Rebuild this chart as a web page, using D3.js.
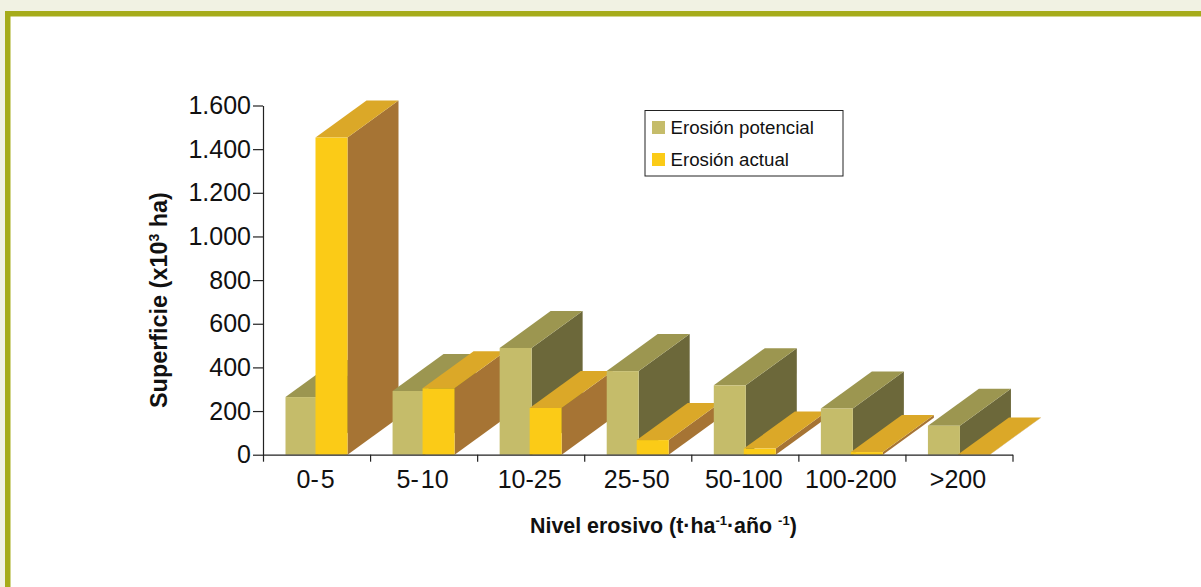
<!DOCTYPE html>
<html><head><meta charset="utf-8">
<script src="https://d3js.org/d3.v7.min.js"></script>
<style>
html,body{margin:0;padding:0;background:#f1f2e3;overflow:hidden}
text{font-family:"Liberation Sans",Arial,sans-serif;fill:#111}
</style></head><body>
<svg id="c" width="1201" height="587" style="display:block"></svg>
<script>
const categories = ["0- 5","5- 10","10-25","25- 50","50-100","100-200",">200"];
const seriesNames = ["Erosión potencial","Erosión actual"];
const potencial = [264,292,489,383,318,212,133];
const actual = [1453,304,214,67,28,12,1];
const yTicks = [0,200,400,600,800,1000,1200,1400,1600];
const yTitle = "Superficie (x10";
const xTitle = "Nivel erosivo (t·ha";

const svg = d3.select("#c");
svg.append("rect").attr("x",5).attr("y",11).attr("width",1196).attr("height",576).attr("fill","#a6ac1a");
svg.append("rect").attr("x",10.5).attr("y",16.5).attr("width",1191).attr("height",571).attr("fill","#fff");

const x0=263, x1=1012.5, y0=454.7, y1=105.5;
const x = d3.scaleBand().domain(categories).range([x0,x1]);
const sub = d3.scalePoint().domain(seriesNames).range([22.5,52.5]);
const barWidth = 32;
const y = d3.scaleLinear().domain([0,1600]).range([y0,y1]);
const depth = {dx:51, dy:-37};
const styles = [
  {front:"#c5bc6a",top:"#9c9650",side:"#6c683a"},
  {front:"#fbcb17",top:"#dba828",side:"#a67434"}
];
const g = svg.append("g");
const poly = pts => pts.map(p=>p.join(",")).join(" ");
categories.forEach((c,i)=>{
  [potencial[i],actual[i]].forEach((v,s)=>{
    const l = x(c)+sub(seriesNames[s]), r = l+barWidth, t = y(v), b = y(0), st = styles[s];
    g.append("polygon").attr("fill",st.side).attr("points",poly([[r,t],[r+depth.dx,t+depth.dy],[r+depth.dx,b+depth.dy],[r,b]]));
    g.append("polygon").attr("fill",st.top).attr("points",poly([[l,t],[l+depth.dx,t+depth.dy],[r+depth.dx,t+depth.dy],[r,t]]));
    g.append("rect").attr("x",l).attr("y",t).attr("width",r-l).attr("height",b-t).attr("fill",st.front);
  });
});

const fmt = d => d3.format(",")(d).replace(/,/g,".");
const ya = svg.append("g").attr("transform",`translate(${x0},0)`)
  .call(d3.axisLeft(y).tickValues(yTicks).tickFormat(fmt).tickSize(10).tickSizeOuter(0).tickPadding(2));
ya.selectAll("text").attr("font-size",25).style("font-family",'"Liberation Sans"').attr("fill","#111");
ya.selectAll("line,path").attr("stroke","#222").attr("stroke-width",1.2);

const edge = d3.scaleLinear().domain([0,categories.length]).range([x0,x1]);
const xt = svg.append("g").attr("transform",`translate(0,${y0})`)
  .call(d3.axisBottom(edge).tickValues(d3.range(categories.length+1)).tickFormat("").tickSize(7).tickSizeOuter(0));
xt.selectAll("line,path").attr("stroke","#222").attr("stroke-width",1.2);
const xl = svg.append("g").attr("transform",`translate(-1,${y0})`)
  .call(d3.axisBottom(x).tickSize(0).tickPadding(16));
xl.select("path").remove();
xl.selectAll("text").attr("font-size",25).style("font-family",'"Liberation Sans"').style("word-spacing","-5px").attr("fill","#111");

const yt = svg.append("text").attr("transform","translate(167,408) rotate(-90)").attr("font-size",23.4).attr("font-weight","bold");
yt.append("tspan").text(yTitle);
yt.append("tspan").text("3").attr("font-size",14).attr("dy",-8);
yt.append("tspan").text(" ha)").attr("dy",8);

const xtt = svg.append("text").attr("x",530).attr("y",533).attr("font-size",21.4).attr("font-weight","bold");
xtt.append("tspan").text(xTitle);
xtt.append("tspan").text("-1").attr("font-size",13).attr("dy",-8);
xtt.append("tspan").text("·año ").attr("dy",8);
xtt.append("tspan").text("-1").attr("font-size",13).attr("dy",-8);
xtt.append("tspan").text(")").attr("dy",8);

const lg = svg.append("g");
lg.append("rect").attr("x",645).attr("y",110.5).attr("width",198).attr("height",65.5).attr("fill","#fff").attr("stroke","#222").attr("stroke-width",1);
seriesNames.forEach((n,i)=>{
  const yy = 121+i*32;
  lg.append("rect").attr("x",652).attr("y",yy).attr("width",13).attr("height",13).attr("fill",styles[i].front);
  lg.append("text").attr("x",670.5).attr("y",yy+12.5).attr("font-size",18.7).text(n);
});
</script></body></html>
